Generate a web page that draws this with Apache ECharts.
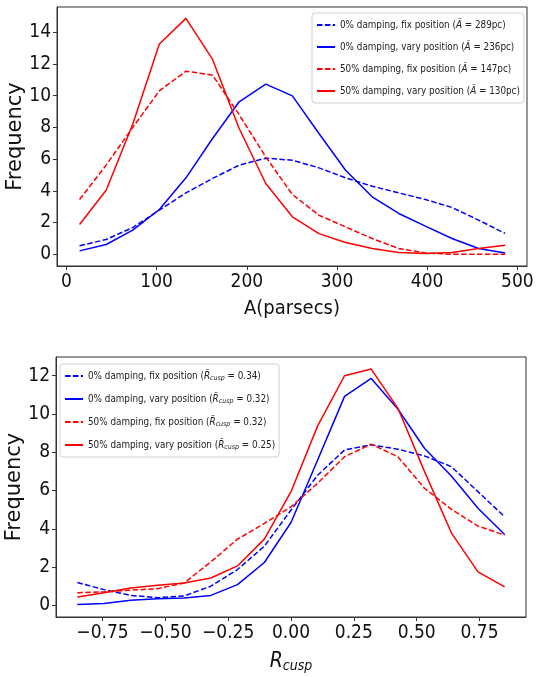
<!DOCTYPE html>
<html>
<head>
<meta charset="utf-8">
<script src="https://cdn.jsdelivr.net/npm/echarts@6/dist/echarts.min.js"></script>
<style>
  html, body { margin: 0; padding: 0; background: #fff; }
  #chart { width: 537px; height: 677px; }
</style>
</head>
<body>
<div id="chart"></div>
<script>
// bin centres (top panel: A in parsecs, bottom panel: R_cusp)
const aBins = [14.5, 44, 73.5, 103, 132.5, 162, 191.5, 221, 250.5, 280, 309.5, 339, 368.5, 398, 427.5, 457, 486.5]
const rBins = [-0.85, -0.744, -0.638, -0.531, -0.425, -0.319, -0.213, -0.106, 0, 0.106, 0.213, 0.319, 0.425, 0.531, 0.638, 0.744, 0.85]

// top panel frequencies
const aFix0 = [0.53, 0.93, 1.68, 2.78, 3.87, 4.78, 5.62, 6.06, 5.93, 5.45, 4.82, 4.29, 3.87, 3.45, 2.95, 2.15, 1.31]
const aVary0 = [0.21, 0.61, 1.52, 2.82, 4.82, 7.3, 9.62, 10.73, 9.99, 7.62, 5.3, 3.62, 2.57, 1.77, 0.99, 0.36, 0.08]
const aFix50 = [3.45, 5.62, 8.0, 10.31, 11.55, 11.3, 8.8, 6.14, 3.77, 2.46, 1.72, 0.99, 0.36, 0.08, 0.0, 0.0, 0.0]
const aVary50 = [1.87, 4.04, 8.2, 13.26, 14.88, 12.29, 7.93, 4.46, 2.36, 1.3, 0.74, 0.36, 0.1, 0.04, 0.1, 0.36, 0.57]

// bottom panel frequencies
const rFix0 = [1.19, 0.82, 0.52, 0.4, 0.49, 1.0, 1.87, 3.09, 4.98, 6.8, 8.12, 8.39, 8.16, 7.81, 7.25, 5.94, 4.63]
const rVary0 = [0.04, 0.09, 0.26, 0.35, 0.38, 0.52, 1.08, 2.24, 4.33, 7.6, 10.92, 11.86, 10.26, 8.21, 6.76, 5.07, 3.7]
const rFix50 = [0.66, 0.7, 0.79, 0.87, 1.17, 2.27, 3.46, 4.28, 5.15, 6.38, 7.77, 8.42, 7.77, 6.12, 5.02, 4.14, 3.67]
const rVary50 = [0.44, 0.66, 0.91, 1.05, 1.17, 1.43, 2.06, 3.46, 5.94, 9.38, 12.0, 12.35, 10.31, 7.0, 3.79, 1.75, 0.96]

const aTicks = [0, 100, 200, 300, 400, 500]
const rTicks = [-0.75, -0.5, -0.25, 0, 0.25, 0.5, 0.75]
const freqTicksTop = [0, 2, 4, 6, 8, 10, 12, 14]
const freqTicksBottom = [0, 2, 4, 6, 8, 10, 12]

const topNames = [
  "0% damping, fix position (A = 289pc)",
  "0% damping, vary position (A = 236pc)",
  "50% damping, fix position (A = 147pc)",
  "50% damping, vary position (A = 130pc)",
]
const bottomNames = [
  "0% damping, fix position (R = 0.34)",
  "0% damping, vary position (R = 0.32)",
  "50% damping, fix position (R = 0.32)",
  "50% damping, vary position (R = 0.25)",
]

const FONT = "'DejaVu Sans Condensed', 'DejaVu Sans', sans-serif"
const FONT_WIDE = "'DejaVu Sans', sans-serif"
const BLUE = "#0000ff"
const RED = "#ff0000"
const DASH = [5.5, 2.4]

const chart = echarts.init(document.getElementById("chart"), null, { renderer: "canvas" })

function pairs(xs, ys) {
  return xs.map((x, i) => [x, ys[i]])
}

function line(name, xs, ys, color, dashed, idx) {
  return {
    name: name,
    type: "line",
    xAxisIndex: idx,
    yAxisIndex: idx,
    data: pairs(xs, ys),
    symbol: "none",
    animation: false,
    itemStyle: { color: color },
    lineStyle: { color: color, width: 1.5, type: dashed ? DASH : "solid" },
  }
}

// legend labels: swap the plain letter for tilde/italic rich text
function legendLabel(name) {
  if (name.indexOf("(A = ") >= 0) {
    const p = name.split("(A = ")
    return p[0] + "({it|\u00C3} = " + p[1]
  }
  const p = name.split("(R = ")
  return p[0] + "({it|R\u0303}{sub|cusp} = " + p[1]
}

const axisCommon = {
  type: "value",
  splitLine: { show: false },
  axisLine: { show: true, onZero: false, lineStyle: { color: "#333", width: 1 } },
}

function legend(names, left, top, gap) {
  const fs = 9.8
  return {
    data: names,
    orient: "vertical",
    left: left,
    top: top,
    itemWidth: 18,
    itemHeight: 12,
    itemGap: gap,
    padding: [6, 4, 6, 4],
    backgroundColor: "#fff",
    borderColor: "#d0d0d0",
    borderWidth: 1,
    borderRadius: 3,
    selectedMode: false,
    itemStyle: { opacity: 0 },
    formatter: legendLabel,
    textStyle: {
      fontFamily: FONT,
      fontSize: fs,
      color: "#222",
      lineHeight: 12,
      rich: {
        it: { fontFamily: FONT, fontSize: fs, fontStyle: "italic", color: "#222" },
        sub: { fontFamily: FONT, fontSize: 7, fontStyle: "italic", color: "#222", verticalAlign: "bottom", padding: [5, 0, 0, 0] },
      },
    },
  }
}

function freqName() {
  return {
    name: "Frequency",
    nameLocation: "middle",
    nameRotate: 90,
    nameGap: 31,
    nameMoveOverlap: false,
    nameTextStyle: { fontFamily: FONT_WIDE, fontSize: 21, color: "#111" },
  }
}

const option = {
  backgroundColor: "#fff",
  animation: false,
  grid: [
    { left: 57, top: 7, width: 470, height: 259, outerBoundsMode: "none", show: true, borderColor: "#333", borderWidth: 1, backgroundColor: "transparent" },
    { left: 56, top: 357, width: 470, height: 260, outerBoundsMode: "none", show: true, borderColor: "#333", borderWidth: 1, backgroundColor: "transparent" },
  ],
  legend: [legend(topNames, 312, 13, 10), legend(bottomNames, 60, 364, 11)],
  xAxis: [
    Object.assign({}, axisCommon, {
      gridIndex: 0,
      min: -10.5,
      max: 510.7,
      axisTick: { show: true, length: 4, customValues: aTicks, lineStyle: { color: "#333" } },
      axisLabel: { customValues: aTicks, fontFamily: FONT, fontSize: 19, color: "#111", margin: 7 },
      name: "A(parsecs)",
      nameLocation: "middle",
      nameGap: 33,
      nameTextStyle: { fontFamily: FONT, fontSize: 20, color: "#111" },
    }),
    Object.assign({}, axisCommon, {
      gridIndex: 1,
      min: -0.935,
      max: 0.935,
      axisTick: { show: true, length: 4, customValues: rTicks, lineStyle: { color: "#333" } },
      axisLabel: {
        customValues: rTicks,
        fontFamily: FONT,
        fontSize: 19,
        color: "#111",
        margin: 7,
        formatter: (v) => v.toFixed(2).replace("-", "\u2212"),
      },
      name: "{r|R}{s|cusp}",
      nameLocation: "middle",
      nameGap: 34,
      nameTextStyle: {
        fontFamily: FONT,
        fontSize: 19,
        color: "#111",
        rich: {
          r: { fontFamily: FONT, fontSize: 21, fontStyle: "italic", color: "#111" },
          s: { fontFamily: FONT, fontSize: 14, fontStyle: "italic", color: "#111", verticalAlign: "bottom", padding: [8, 0, 0, 0] },
        },
      },
    }),
  ],
  yAxis: [
    Object.assign({}, axisCommon, freqName(), {
      gridIndex: 0,
      min: -0.745,
      max: 15.6,
      axisTick: { show: true, length: 4, customValues: freqTicksTop, lineStyle: { color: "#333" } },
      axisLabel: { customValues: freqTicksTop, fontFamily: FONT, fontSize: 19, color: "#111", margin: 6 },
    }),
    Object.assign({}, axisCommon, freqName(), {
      gridIndex: 1,
      min: -0.61,
      max: 12.98,
      axisTick: { show: true, length: 4, customValues: freqTicksBottom, lineStyle: { color: "#333" } },
      axisLabel: { customValues: freqTicksBottom, fontFamily: FONT, fontSize: 19, color: "#111", margin: 6 },
    }),
  ],
  series: [
    line(topNames[0], aBins, aFix0, BLUE, true, 0),
    line(topNames[1], aBins, aVary0, BLUE, false, 0),
    line(topNames[2], aBins, aFix50, RED, true, 0),
    line(topNames[3], aBins, aVary50, RED, false, 0),
    line(bottomNames[0], rBins, rFix0, BLUE, true, 1),
    line(bottomNames[1], rBins, rVary0, BLUE, false, 1),
    line(bottomNames[2], rBins, rFix50, RED, true, 1),
    line(bottomNames[3], rBins, rVary50, RED, false, 1),
  ],
}

chart.setOption(option)
</script>
</body>
</html>
